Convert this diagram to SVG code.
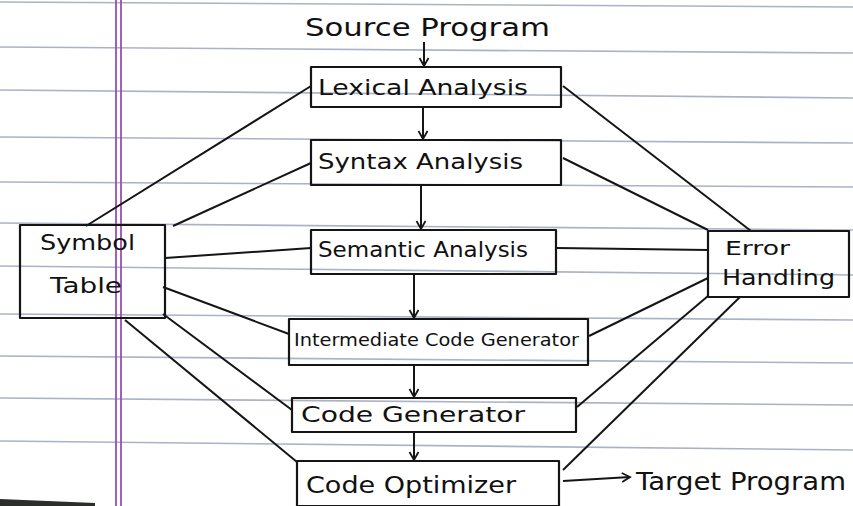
<svg xmlns="http://www.w3.org/2000/svg" width="853" height="506" viewBox="0 0 853 506">
<defs>
<style>
.paper{stroke:#8f97b3;stroke-width:1.6;opacity:0.75;fill:none}
.margin{stroke:#9a4fb0;stroke-width:1.8;fill:none}
.box{fill:none;stroke:#151515;stroke-width:2.2;stroke-linejoin:round}
.conn{fill:none;stroke:#151515;stroke-width:2}
.t{font-family:"DejaVu Sans","Liberation Sans",sans-serif;fill:#111}
</style>
<marker id="arr" markerWidth="12" markerHeight="12" refX="9" refY="5" orient="auto" markerUnits="userSpaceOnUse">
<path d="M1,0.5 L9,5 L1,9.5" fill="none" stroke="#151515" stroke-width="1.8"/>
</marker>
</defs>
<rect x="0" y="0" width="853" height="506" fill="#ffffff"/>
<g id="paper">
<line class="paper" x1="0" y1="2" x2="853" y2="7"/>
<line class="paper" x1="0" y1="47" x2="853" y2="53"/>
<line class="paper" x1="0" y1="90" x2="853" y2="98"/>
<line class="paper" x1="0" y1="137" x2="853" y2="143"/>
<line class="paper" x1="0" y1="182" x2="853" y2="187"/>
<line class="paper" x1="0" y1="223" x2="853" y2="230"/>
<line class="paper" x1="0" y1="266" x2="853" y2="275"/>
<line class="paper" x1="0" y1="314" x2="853" y2="320"/>
<line class="paper" x1="0" y1="356" x2="853" y2="363"/>
<line class="paper" x1="0" y1="398" x2="853" y2="405"/>
<line class="paper" x1="0" y1="441" x2="853" y2="450"/>
<line class="margin" x1="116" y1="0" x2="116" y2="506"/>
<line class="margin" x1="121" y1="0" x2="121" y2="506"/>
<path d="M0,499 L95,503 L95,506 L0,506 Z" fill="#2a2f2a"/>
</g>
<g id="connectors">
<line class="conn" x1="424" y1="42" x2="424" y2="66" marker-end="url(#arr)"/>
<line class="conn" x1="423" y1="107" x2="423" y2="139" marker-end="url(#arr)"/>
<line class="conn" x1="421" y1="185" x2="421" y2="229" marker-end="url(#arr)"/>
<line class="conn" x1="414" y1="274" x2="414" y2="318" marker-end="url(#arr)"/>
<line class="conn" x1="414" y1="365" x2="414" y2="397" marker-end="url(#arr)"/>
<line class="conn" x1="414" y1="432" x2="414" y2="460" marker-end="url(#arr)"/>
<line class="conn" x1="563" y1="481" x2="630" y2="477" marker-end="url(#arr)"/>
<line class="conn" x1="86" y1="226" x2="311" y2="86"/>
<line class="conn" x1="173" y1="226" x2="311" y2="163"/>
<line class="conn" x1="165" y1="258" x2="311" y2="248"/>
<line class="conn" x1="163" y1="287" x2="289" y2="334"/>
<line class="conn" x1="163" y1="314" x2="292" y2="410"/>
<line class="conn" x1="125" y1="320" x2="297" y2="462"/>
<line class="conn" x1="563" y1="86" x2="751" y2="231"/>
<line class="conn" x1="563" y1="158" x2="708" y2="230"/>
<line class="conn" x1="557" y1="248" x2="708" y2="250"/>
<line class="conn" x1="589" y1="336" x2="708" y2="278"/>
<line class="conn" x1="577" y1="407" x2="708" y2="296"/>
<line class="conn" x1="563" y1="470" x2="740" y2="297"/>
</g>
<text class="t" x="305" y="36" font-size="24" textLength="245" lengthAdjust="spacingAndGlyphs">Source Program</text>
<g id="lexical">
<rect class="box" x="311" y="67" width="250" height="40"/>
<text class="t" x="318" y="95" font-size="21" textLength="210" lengthAdjust="spacingAndGlyphs">Lexical Analysis</text>
</g>
<g id="syntax">
<rect class="box" x="311" y="140" width="250" height="45"/>
<text class="t" x="318" y="169" font-size="21" textLength="205" lengthAdjust="spacingAndGlyphs">Syntax Analysis</text>
</g>
<g id="semantic">
<rect class="box" x="311" y="230" width="245" height="44"/>
<text class="t" x="318" y="257" font-size="21" textLength="210" lengthAdjust="spacingAndGlyphs">Semantic Analysis</text>
</g>
<g id="intermediate">
<rect class="box" x="289" y="319" width="299" height="46"/>
<text class="t" x="294" y="346" font-size="18" textLength="285" lengthAdjust="spacingAndGlyphs">Intermediate Code Generator</text>
</g>
<g id="codegen">
<rect class="box" x="292" y="398" width="284" height="34"/>
<text class="t" x="301" y="422" font-size="21" textLength="224" lengthAdjust="spacingAndGlyphs">Code Generator</text>
</g>
<g id="optimizer">
<rect class="box" x="297" y="461" width="262" height="45"/>
<text class="t" x="306" y="493" font-size="23" textLength="210" lengthAdjust="spacingAndGlyphs">Code Optimizer</text>
</g>
<g id="symbol-table">
<rect class="box" x="20" y="225" width="145" height="93"/>
<text class="t" x="40" y="250" font-size="21" textLength="95" lengthAdjust="spacingAndGlyphs">Symbol</text>
<text class="t" x="50" y="293" font-size="21" textLength="72" lengthAdjust="spacingAndGlyphs">Table</text>
</g>
<g id="error-handling">
<rect class="box" x="708" y="231" width="141" height="66"/>
<text class="t" x="725" y="255" font-size="19" textLength="65" lengthAdjust="spacingAndGlyphs">Error</text>
<text class="t" x="722" y="285" font-size="21" textLength="113" lengthAdjust="spacingAndGlyphs">Handling</text>
</g>
<text class="t" x="636" y="490" font-size="24" textLength="210" lengthAdjust="spacingAndGlyphs">Target Program</text>
</svg>
